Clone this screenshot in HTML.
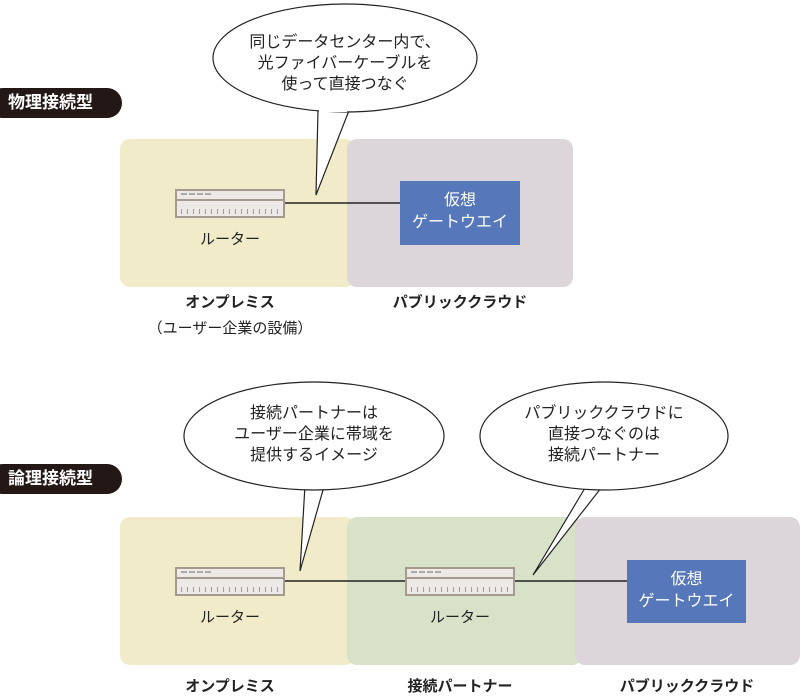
<!DOCTYPE html>
<html><head><meta charset="utf-8"><style>
body{margin:0;width:800px;height:694px;background:#fff;overflow:hidden;position:relative;font-family:"Liberation Sans","Noto Sans CJK JP",sans-serif;}
.a{position:absolute}
.box{position:absolute;border-radius:10px}
.badge{position:absolute;left:-12px;width:134px;height:30px;background:#231815;border-radius:15px;color:#fff;font-weight:bold;font-size:17px;line-height:30px;text-indent:20px}
.lbl{position:absolute;font-size:15px;color:#222;text-align:center;white-space:nowrap}
.gw{position:absolute;background:#5677b9;color:#fff;font-size:16px;text-align:center;line-height:22px;padding-top:9px;box-sizing:border-box}
.rt{position:absolute;width:110px;height:29px;border:2px solid #a59a8f;background:#ede9e6;box-sizing:border-box}
.rt:before{content:"";position:absolute;left:0;right:0;top:8px;border-top:2px solid #a59a8f}
.rt i{position:absolute;left:4px;top:2px;width:30px;border-top:2px dashed #aaa}
.rt b{position:absolute;left:4px;right:4px;bottom:2px;height:5px;background:repeating-linear-gradient(90deg,#a59a8f 0 1px,transparent 1px 6px)}
.bt{position:absolute;font-size:16px;color:#222;text-align:center;line-height:21px;white-space:nowrap}
</style></head><body>
<div class="box" style="left:120px;top:139px;width:235px;height:148px;background:#f1ebc9"></div>
<div class="box" style="left:347px;top:139px;width:226px;height:148px;background:#dcd6da"></div>
<div class="badge" style="top:88px">物理接続型</div>
<div class="box" style="left:120px;top:517px;width:235px;height:148px;background:#f1ebc9"></div>
<div class="box" style="left:347px;top:517px;width:235px;height:148px;background:#d8e2c9"></div>
<div class="box" style="left:575px;top:517px;width:225px;height:148px;background:#dcd6da"></div>
<div class="badge" style="top:464px">論理接続型</div>
<svg class="a" style="left:0;top:0" width="800" height="694">
<line x1="285" y1="203" x2="400" y2="203" stroke="#222" stroke-width="1.5"/>
<line x1="285" y1="581" x2="628" y2="581" stroke="#222" stroke-width="1.5"/>
<g fill="#fff" stroke="#222" stroke-width="1.2">
<path d="M318 110 L316 195 L350 108"/>
<ellipse cx="345" cy="58" rx="132" ry="54"/>
<path d="M305 485 L300 571 L325 483"/>
<ellipse cx="314" cy="436" rx="130" ry="54"/>
<path d="M585 488 L533 575 L605 483"/>
<ellipse cx="604" cy="436" rx="124" ry="54"/>
</g>
<g fill="#fff"><rect x="319" y="100" width="28" height="12"/><rect x="306" y="476" width="17" height="10"/><rect x="587" y="476" width="16" height="10"/></g>
</svg>
<div class="bt" style="left:213px;width:264px;top:32px">同じデータセンター内で、<br>光ファイバーケーブルを<br>使って直接つなぐ</div>
<div class="bt" style="left:184px;width:260px;top:403px">接続パートナーは<br>ユーザー企業に帯域を<br>提供するイメージ</div>
<div class="bt" style="left:480px;width:248px;top:403px">パブリッククラウドに<br>直接つなぐのは<br>接続パートナー</div>
<div class="rt" style="left:175px;top:189px"><i></i><b></b></div>
<div class="rt" style="left:175px;top:567px"><i></i><b></b></div>
<div class="rt" style="left:405px;top:567px"><i></i><b></b></div>
<div class="gw" style="left:400px;top:181px;width:120px;height:64px">仮想<br>ゲートウエイ</div>
<div class="gw" style="left:627px;top:560px;width:119px;height:63px">仮想<br>ゲートウエイ</div>
<div class="lbl" style="left:175px;width:110px;top:228px">ルーター</div>
<div class="lbl" style="left:175px;width:110px;top:606px">ルーター</div>
<div class="lbl" style="left:405px;width:110px;top:606px">ルーター</div>
<div class="lbl" style="left:130px;width:200px;top:291px;font-weight:bold">オンプレミス</div>
<div class="lbl" style="left:130px;width:200px;top:317px">（ユーザー企業の設備）</div>
<div class="lbl" style="left:360px;width:200px;top:291px;font-weight:bold">パブリッククラウド</div>
<div class="lbl" style="left:130px;width:200px;top:675px;font-weight:bold">オンプレミス</div>
<div class="lbl" style="left:360px;width:200px;top:675px;font-weight:bold">接続パートナー</div>
<div class="lbl" style="left:587px;width:200px;top:675px;font-weight:bold">パブリッククラウド</div>
</body></html>
